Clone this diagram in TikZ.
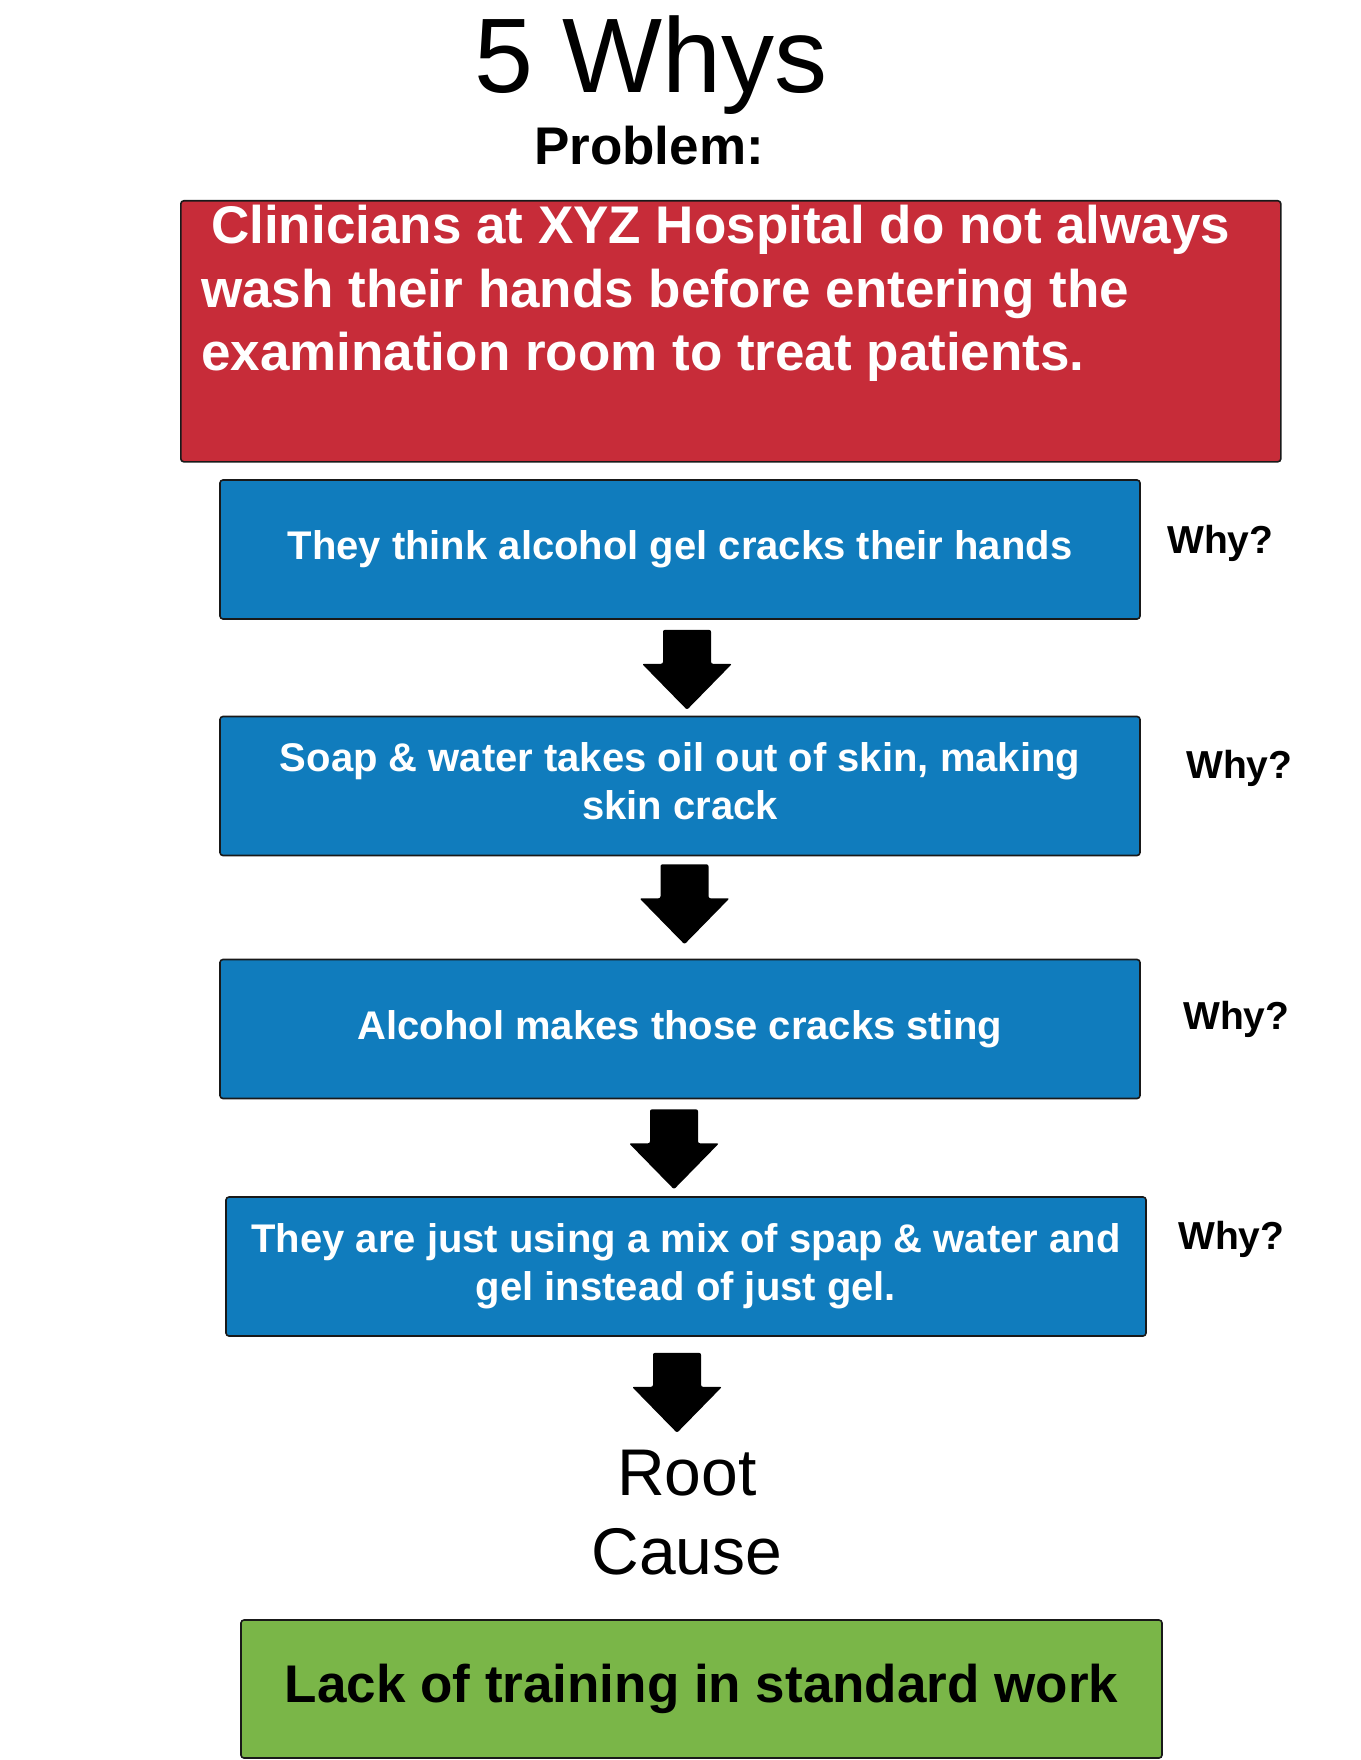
\documentclass[tikz,border=0pt]{standalone}
\usepackage{fontspec}
\setmainfont{Liberation Sans}
\definecolor{probred}{RGB}{199,44,57}
\definecolor{whyblue}{RGB}{16,124,189}
\definecolor{rootgreen}{RGB}{122,182,72}

\begin{document}
\begin{tikzpicture}[x=1pt,y=-1pt,
    box/.style={draw=black!90, line width=1.6pt, rounded corners=3pt, inner sep=0pt},
    whybox/.style={box, fill=whyblue, text=white, align=center,
        font=\fontsize{40pt}{48pt}\selectfont\bfseries,
        minimum width=920pt, minimum height=139pt},
    whylabel/.style={anchor=base west, inner sep=0pt, font=\fontsize{39pt}{47pt}\selectfont\bfseries},
    bigarrow/.style={fill=black, rounded corners=2pt}]
    \useasboundingbox (0,0) rectangle (1360,1760);

    \node[anchor=base, inner sep=0pt, font=\fontsize{106pt}{127pt}\selectfont] (title) at (651,93) {5 Whys};
    \node[anchor=base, inner sep=0pt, font=\fontsize{53pt}{64pt}\selectfont\bfseries] (problem) at (649,165) {Problem:};

    \node[box, fill=probred, minimum width=1100pt, minimum height=261pt, anchor=north west] (prob) at (180,200) {};
    \node[anchor=north west, inner sep=0pt, text=white, align=left,
        font=\fontsize{53pt}{63.5pt}\selectfont\bfseries] (probtext) at (201,205)
        {\hspace*{10pt}Clinicians at XYZ Hospital do not always\\wash their hands before entering the\\examination room to treat patients.};

    \node[whybox] (b1) at (680,549.5) {They think alcohol gel cracks their hands};
    \node[whybox, text depth=10pt] (b2) at (680,786) {Soap \& water takes oil out of skin, making\\skin crack};
    \node[whybox] (b3) at (680,1029) {Alcohol makes those cracks sting};
    \node[whybox] (b4) at (686,1266.5) {They are just using a mix of spap \& water and\\gel instead of just gel.};

    \node[whylabel] (w1) at (1167,553) {Why?};
    \node[whylabel] (w2) at (1186,778) {Why?};
    \node[whylabel] (w3) at (1183,1029) {Why?};
    \node[whylabel] (w4) at (1178,1249) {Why?};

    \coordinate (a1) at ([xshift=7pt,yshift=-10pt]b1.south);
    \coordinate (a2) at ([xshift=4.5pt,yshift=-8pt]b2.south);
    \coordinate (a3) at ([xshift=-6pt,yshift=-10pt]b3.south);
    \coordinate (a4) at ([xshift=-9pt,yshift=-16pt]b4.south);
    \foreach \a in {a1,a2,a3,a4}
        \fill[bigarrow, shift={(\a)}] (-24,0) -- (24,0) -- (24,34) -- (45,34) -- (0,80) -- (-45,34) -- (-24,34) -- cycle;

    \node[anchor=north, inner sep=0pt, align=center, font=\fontsize{66pt}{79pt}\selectfont] (root) at (687,1450) {Root\\Cause};

    \node[box, fill=rootgreen, minimum width=921pt, minimum height=138pt,
        font=\fontsize{53pt}{64pt}\selectfont\bfseries] (cause) at (701.5,1689) {Lack of training in standard work};

\end{tikzpicture}
\end{document}
